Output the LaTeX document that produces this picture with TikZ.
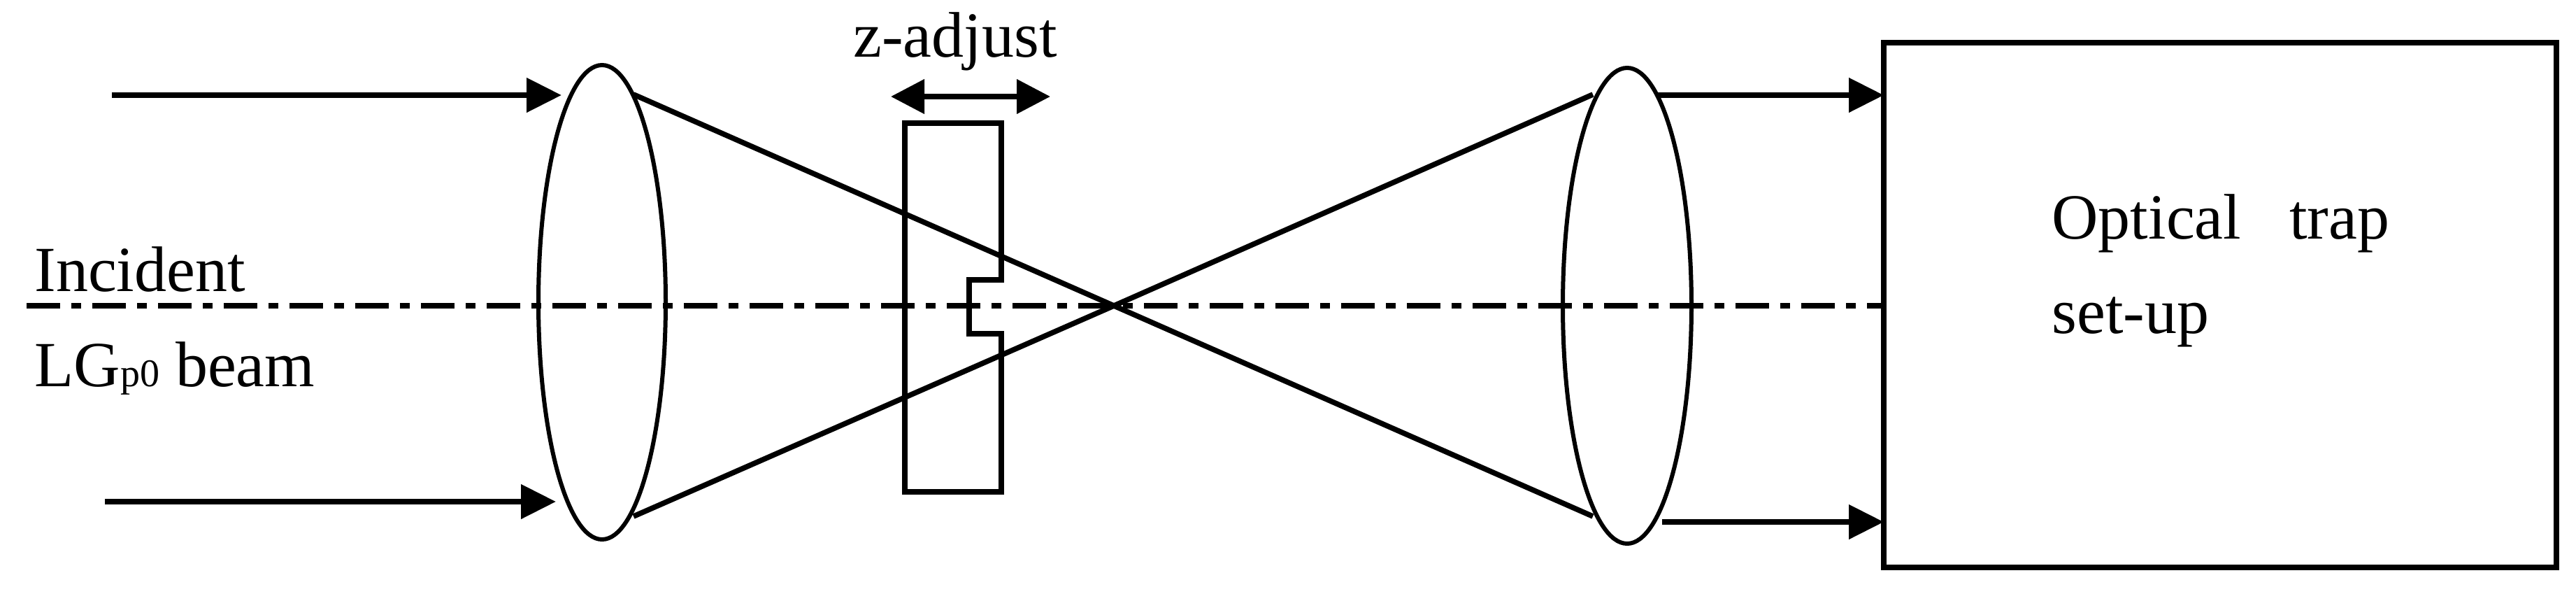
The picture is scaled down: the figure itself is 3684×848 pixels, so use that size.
\documentclass[tikz,border=0pt]{standalone}
\usepackage{fontspec}
\setmainfont{Liberation Serif}
\usetikzlibrary{arrows.meta}
\begin{document}
\begin{tikzpicture}[x=0.5pt,y=-0.5pt,
  ray/.style={line width=3.8pt},
  beam/.style={line width=4pt,-{Triangle[length=25pt,width=24pt]}},
  lbl/.style={anchor=base west,inner sep=0pt,font=\fontsize{46}{54}\selectfont}]
\useasboundingbox (0,0) rectangle (3684,848);
\draw[line width=3pt] (861,432) ellipse [x radius=91,y radius=339];
\draw[line width=3pt] (2327,437) ellipse [x radius=92,y radius=340];
\coordinate (X) at (1593,437);
\coordinate (L1t) at (906,135); \coordinate (L1b) at (906,738);
\coordinate (L2t) at (2278,135); \coordinate (L2b) at (2278,738);
\draw[ray] (L1t) -- (X) -- (L2b);
\draw[ray] (L1b) -- (X) -- (L2t);
\coordinate (bnw) at (2694,61); \coordinate (bse) at (3656,811);
\draw[line width=4pt] (bnw) rectangle (bse);
\draw[beam] (160,136) -- (803,136);
\draw[beam] (150,717) -- (795,717);
\draw[beam] (2371,136) -- (2694,136);
\draw[beam] (2377,746) -- (2694,746);
\draw[line width=3.8pt,dash pattern=on 24pt off 8pt on 7pt off 8pt] (38,437) -- (bnw|-0,437);
\draw[line width=3.8pt] (1294,176) -- (1432,176) -- (1432,400) -- (1386,400) -- (1386,477) -- (1432,477) -- (1432,703) -- (1294,703) -- cycle;
\draw[line width=3.8pt,{Triangle[length=24pt,width=24pt]}-{Triangle[length=24pt,width=24pt]}] (1274,138) -- (1502,138);
\node[lbl] (zadj) at (1220,81) {z-adjust};
\node[lbl] (inc) at (49,416) {Incident};
\node[lbl] (lg) at (49,552) {LG{\fontsize{28}{28}\selectfont p0} beam};
\node[lbl] (ot) at (2934,341) {Optical\hspace{0.5em} trap};
\node[lbl] (su) at (2934,476) {set-up};
\end{tikzpicture}
\end{document}
